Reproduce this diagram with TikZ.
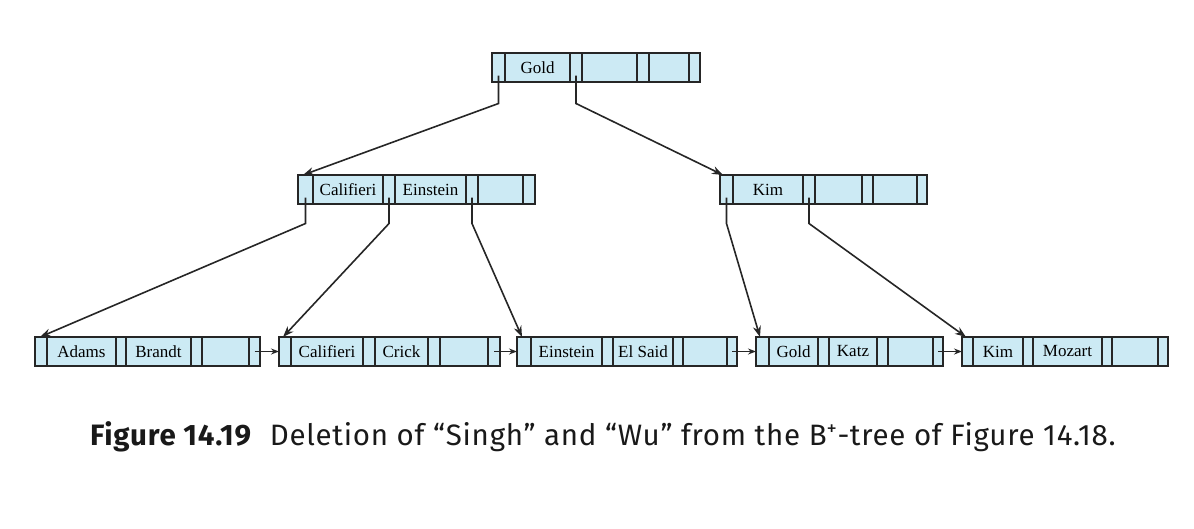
\documentclass[tikz,border=0pt]{standalone}
\usepackage{fontspec}
\setmainfont{Liberation Serif}
\newfontfamily\capfont[LetterSpace=2.5]{Fira Sans}
\usetikzlibrary{arrows.meta}
\definecolor{cellfill}{RGB}{204,234,244}
\newcommand{\bnode}[3]{%
  \foreach \a/\b/\t/\n in {#3}
    \node[cellbox, minimum width={(\b-\a)*1pt}] (#1-\n) at ({(\a+\b)/2},#2) {\t};}
\begin{document}
\begin{tikzpicture}[x=1pt,y=-1pt,
  cellbox/.style={draw=black!85, fill=cellfill, line width=1.5pt, inner sep=0pt, outer sep=0pt,
    minimum height=29pt, font=\fontsize{17}{17}\selectfont},
  ptr/.style={line width=1.6pt, draw=black!85, -{Stealth[length=11pt,width=8pt]}},
  link/.style={line width=1.5pt, draw=black!85, -{Stealth[length=8pt,width=6pt]}}]
\useasboundingbox (0,0) rectangle (1194,528);

% root
\bnode{root}{67.5}{492/505//p0, 505/570/Gold/k1, 570/582//p1, 582/637//k2, 637/649//p2, 649/689//k3, 689/700//p3}
% internal
\bnode{cal}{189.5}{298/313//p0, 313/383/Califieri/k1, 383/395//p1, 395/466/Einstein/k2, 466/478//p2, 478/523//k3, 523/535//p3}
\bnode{kim}{189.5}{720/733//p0, 733/803/Kim/k1, 803/815//p1, 815/862//k2, 862/873//p2, 873/917//k3, 917/927//p3}
% leaves
\bnode{la}{351.5}{35/47//p0, 47/116/Adams/k1, 116/126//p1, 126/191/Brandt/k2, 191/202//p2, 202/249//k3, 249/260//p3}
\bnode{lb}{351.5}{279/291//p0, 291/363/Califieri/k1, 363/375//p1, 375/428/Crick/k2, 428/440//p2, 440/488//k3, 488/500//p3}
\bnode{lc}{351.5}{517/531//p0, 531/602/Einstein/k1, 602/613//p1, 613/673/El Said/k2, 673/683//p2, 683/727//k3, 727/737//p3}
\bnode{ld}{351.5}{756/769//p0, 769/818/Gold/k1, 818/829//p1, 829/877/Katz/k2, 877/888//p2, 888/933//k3, 933/943//p3}
\bnode{le}{351.5}{962/973//p0, 973/1023/Kim/k1, 1023/1033//p1, 1033/1102/Mozart/k2, 1102/1112//p2, 1112/1158//k3, 1158/1168//p3}

% root pointers
\draw[ptr] ([yshift=-8pt]root-p0.center) -- ++(0,28) -- ([xshift=5pt]cal-p0.north west);
\draw[ptr] ([yshift=-8pt]root-p1.center) -- ++(0,28) -- ([xshift=3pt]kim-p0.north west);
% internal pointers
\draw[ptr] ([yshift=-8pt]cal-p0.center) -- ++(0,26) -- ([xshift=5pt]la-p0.north west);
\draw[ptr] ([yshift=-8pt]cal-p1.center) -- ++(0,26) -- ([xshift=4pt]lb-p0.north west);
\draw[ptr] ([yshift=-8pt]cal-p2.center) -- ++(0,26) -- ([xshift=5pt]lc-p0.north west);
\draw[ptr] ([yshift=-8pt]kim-p0.center) -- ++(0,26) -- ([xshift=4pt]ld-p0.north west);
\draw[ptr] ([yshift=-8pt]kim-p1.center) -- ++(0,26) -- ([xshift=4pt]le-p0.north west);
% leaf chain
\draw[link] (la-p3.center) -- (lb-p0.west);
\draw[link] (lb-p3.center) -- (lc-p0.west);
\draw[link] (lc-p3.center) -- (ld-p0.west);
\draw[link] (ld-p3.center) -- (le-p0.west);

% caption
\node[anchor=base west, inner sep=0pt, text=black!90, font=\capfont\fontsize{29.5}{29.5}\selectfont] (cap) at (90,445)
  {\textbf{Figure 14.19}\hspace{18pt}Deletion of “Singh” and “Wu” from the B\textsuperscript{+}-tree of Figure 14.18.};
\end{tikzpicture}
\end{document}
